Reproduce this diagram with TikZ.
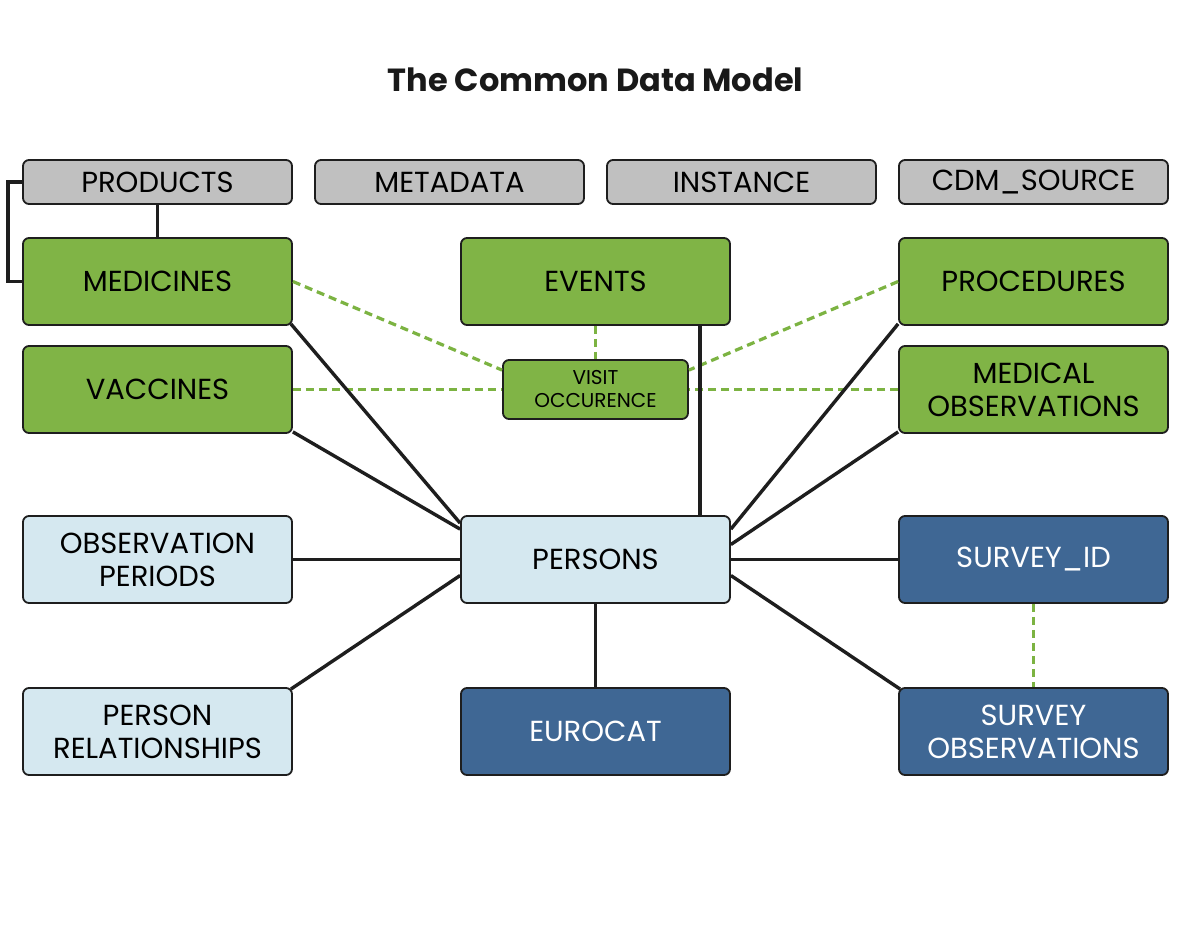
\documentclass[tikz,border=0pt]{standalone}
\usepackage{fontspec}
\setmainfont{Poppins}
\definecolor{grn}{HTML}{80B446}
\definecolor{dgrn}{HTML}{7CB342}
\definecolor{lblue}{HTML}{D5E8F0}
\definecolor{dblue}{HTML}{3F6794}
\definecolor{gry}{HTML}{C0C0C0}
\definecolor{edge}{HTML}{1E1E1E}
\tikzset{
  tbl/.style={draw=edge, line width=1.8pt, rounded corners=6pt, align=center, inner sep=0pt,
    font=\fontsize{29}{33}\selectfont, text=black},
  big/.style={tbl, minimum width=269pt, minimum height=87pt},
  small/.style={tbl, minimum width=269pt, minimum height=44pt, fill=gry},
  gbox/.style={big, fill=grn},
  lbox/.style={big, fill=lblue},
  bbox/.style={big, fill=dblue, text=white},
  link/.style={draw=edge, line width=3.4pt},
  dlink/.style={draw=dgrn, line width=3.2pt, dash pattern=on 8pt off 5pt},
}
\begin{document}
\begin{tikzpicture}[x=1pt,y=-1pt]
\useasboundingbox[fill=white] (0,0) rectangle (1191,937);
\node[font=\fontsize{32}{36}\selectfont\bfseries, text=black!90] (title) at (595.5,80) {The Common Data Model};
% top row
\node[small] (products) at (157.5,182) {PRODUCTS};
\node[small] (metadata) at (449.5,182) {METADATA};
\node[small] (instance) at (741.5,182) {INSTANCE};
\node[small] (cdm) at (1033.5,182) {CDM\_SOURCE};
% green
\node[gbox] (medicines) at (157.5,281.5) {MEDICINES};
\node[gbox] (events) at (595.5,281.5) {EVENTS};
\node[gbox] (procedures) at (1033.5,281.5) {PROCEDURES};
\node[gbox] (vaccines) at (157.5,389.5) {VACCINES};
\node[gbox] (medobs) at (1033.5,389.5) {MEDICAL\\OBSERVATIONS};
\node[tbl, fill=grn, minimum width=185pt, minimum height=59pt, font=\fontsize{20}{23}\selectfont] (visit) at (595.5,389.5) {VISIT\\OCCURENCE};
% persons row
\node[lbox] (obsper) at (157.5,559.5) {OBSERVATION\\PERIODS};
\node[lbox] (persons) at (595.5,559.5) {PERSONS};
\node[bbox] (surveyid) at (1033.5,559.5) {SURVEY\_ID};
\node[lbox] (personrel) at (157.5,731.5) {PERSON\\RELATIONSHIPS};
\node[bbox] (eurocat) at (595.5,731.5) {EUROCAT};
\node[bbox] (surveyobs) at (1033.5,731.5) {SURVEY\\OBSERVATIONS};
% dashed green links
\draw[dlink] (medicines.east) -- ([yshift=-11pt]visit.north west);
\draw[dlink] (vaccines.east) -- (visit.west);
\draw[dlink] (events.south) -- (visit.north);
\draw[dlink] (procedures.west) -- ([yshift=-11pt]visit.north east);
\draw[dlink] (medobs.west) -- (visit.east);
\draw[dlink] (surveyid.south) -- (surveyobs.north);
% solid links
\draw[link] (products.south) -- (medicines.north);
\coordinate (brk) at (8,0);
\draw[link, line join=miter] (products.west) -| (brk |- medicines.west) -- (medicines.west);
\draw[link] ([xshift=-2pt,yshift=2pt]medicines.south east) -- ([yshift=-8pt]persons.north west);
\draw[link] ([yshift=2pt]vaccines.south east) -- ([yshift=-14pt]persons.north west);
\draw[link] (obsper.east) -- (persons.west);
\draw[link] ([xshift=-2pt,yshift=-2pt]personrel.north east) -- ([yshift=-16pt]persons.west);
\draw[link] ([xshift=-31pt]events.south east) -- ([xshift=-31pt]persons.north east);
\draw[link] ([yshift=2pt]procedures.south west) -- ([yshift=-14pt]persons.north east);
\draw[link] ([yshift=2pt]medobs.south west) -- ([yshift=15pt]persons.east);
\draw[link] (surveyid.west) -- (persons.east);
\draw[link] ([xshift=2pt,yshift=-2pt]surveyobs.north west) -- ([yshift=-16pt]persons.east);
\draw[link] (persons.south) -- (eurocat.north);
\end{tikzpicture}
\end{document}
